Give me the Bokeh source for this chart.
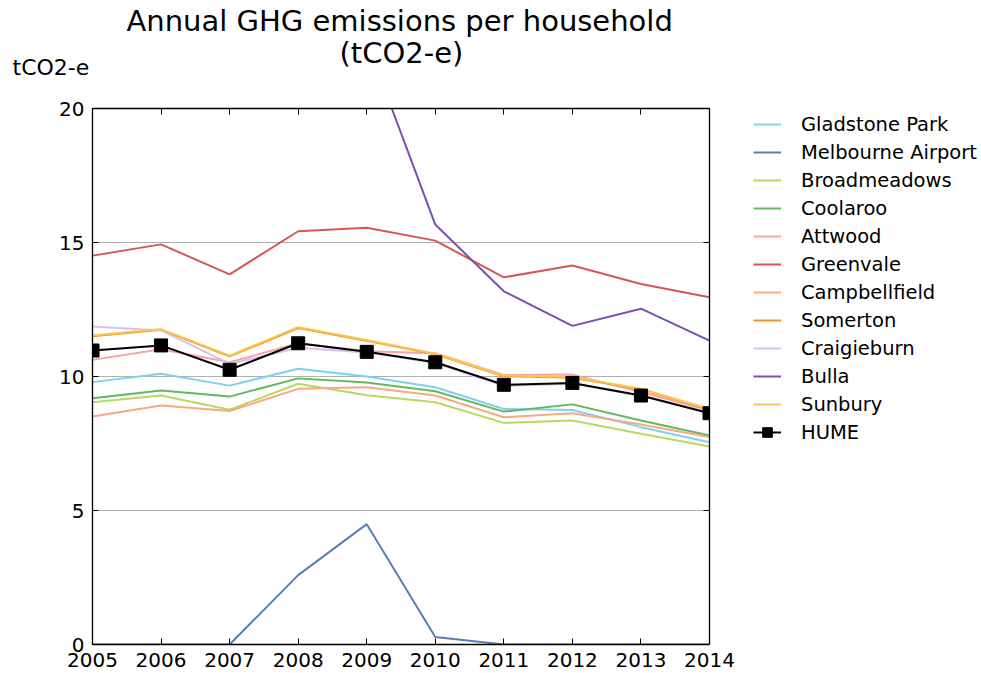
import math
from bokeh.plotting import figure
from bokeh.models import (Range1d, FixedTicker, LinearAxis, Title, Legend, LegendItem,
                          Span, BoxAnnotation)
from bokeh.embed import file_html
from bokeh.resources import INLINE

years = [2005, 2006, 2007, 2008, 2009, 2010, 2011, 2012, 2013, 2014]

gladstone_park = [9.79, 10.10, 9.66, 10.29, 10.00, 9.60, 8.79, 8.75, 8.11, 7.55]
melbourne_airport = [0.0, 0.0, 0.0, 2.59, 4.49, 0.28, 0.0, 0.0, 0.0, 0.0]
broadmeadows = [9.04, 9.29, 8.76, 9.73, 9.30, 9.04, 8.27, 8.36, 7.86, 7.39]
coolaroo = [9.19, 9.48, 9.25, 9.93, 9.78, 9.45, 8.69, 8.96, 8.36, 7.80]
attwood = [10.62, 11.02, 10.53, 11.24, 10.94, 10.87, 10.06, 10.07, 9.42, 8.73]
greenvale = [14.51, 14.93, 13.81, 15.42, 15.55, 15.07, 13.70, 14.14, 13.45, 12.96]
campbellfield = [8.51, 8.92, 8.71, 9.54, 9.60, 9.29, 8.48, 8.63, 8.21, 7.74]
somerton = [11.50, 11.74, 10.75, 11.81, 11.33, 10.83, 10.01, 9.95, 9.52, 8.77]
craigieburn = [11.87, 11.72, 10.47, 11.07, 10.90, 10.50, 9.65, 9.73, 9.28, 8.66]
bulla = [23.5, 24.0, 22.8, 23.6, 22.5, 15.67, 13.18, 11.89, 12.53, 11.34]
sunbury = [11.53, 11.77, 10.78, 11.84, 11.36, 10.85, 10.04, 9.98, 9.54, 8.79]
hume = [10.97, 11.16, 10.25, 11.24, 10.92, 10.53, 9.69, 9.76, 9.29, 8.63]

series_names = ["Gladstone Park", "Melbourne Airport", "Broadmeadows", "Coolaroo",
                "Attwood", "Greenvale", "Campbellfield", "Somerton", "Craigieburn",
                "Bulla", "Sunbury"]
series_values = [gladstone_park, melbourne_airport, broadmeadows, coolaroo, attwood,
                 greenvale, campbellfield, somerton, craigieburn, bulla, sunbury]
series_colors = ["#80d0f0", "#5a7db5", "#b8d860", "#62b862", "#f7a3a8",
                 "#d65656", "#f8a882", "#f7902a", "#d7c2e3", "#7b4fb0", "#f9c74f"]

y_ticks = [0, 5, 10, 15, 20]
title_line1 = "Annual GHG emissions per household"
title_line2 = "(tCO2-e)"
y_label = "tCO2-e"

FONT = "DejaVu Sans"
X0, X1 = years[0], years[-1]
# the frame runs on to the right edge of the page so that the legend sits inside it
x_end = X1 + (981 - 709) * (X1 - X0) / 617.0

p = figure(width=981, height=673, output_backend="svg", toolbar_location=None,
           x_range=Range1d(X0, x_end), y_range=Range1d(0, 20),
           min_border_left=92, min_border_right=0, min_border_top=108,
           min_border_bottom=29)
p.title.text = ""
p.background_fill_color = "white"
p.border_fill_color = "white"
p.outline_line_color = None

for ax in (p.xaxis[0], p.yaxis[0]):
    ax.axis_line_color = "black"
    ax.axis_line_width = 1.3
    ax.major_tick_in = 6
    ax.major_tick_out = 0
    ax.minor_tick_line_color = None
    ax.major_tick_line_color = "black"
    ax.major_label_text_font = FONT
    ax.major_label_text_font_size = "20px"
    ax.major_label_text_color = "black"

p.xaxis[0].ticker = FixedTicker(ticks=years)
p.xaxis[0].bounds = (X0, X1)
p.yaxis[0].ticker = FixedTicker(ticks=y_ticks)
p.xaxis[0].major_label_standoff = 8
p.yaxis[0].major_label_standoff = 8

top_axis = LinearAxis(ticker=FixedTicker(ticks=years), bounds=(X0, X1),
                      axis_line_color="black", axis_line_width=1.3,
                      major_tick_in=6, major_tick_out=0, minor_tick_line_color=None,
                      major_label_standoff=0,
                      major_label_text_font_size="0px", major_label_text_alpha=0)
p.add_layout(top_axis, "above")

p.xgrid.visible = False
p.ygrid[0].ticker = FixedTicker(ticks=y_ticks[1:-1])
p.ygrid[0].bounds = (X0, X1)
p.ygrid[0].grid_line_color = "#b0b0b0"
p.ygrid[0].grid_line_width = 1.2

items = []
for name, vals, col in zip(series_names, series_values, series_colors):
    r = p.line(years, vals, line_color=col, line_width=2)
    items.append(LegendItem(label=name, renderers=[r]))

rh = p.line(years, hume, line_color="black", line_width=2)
rs = p.scatter(years, hume, marker="square", size=13, fill_color="black", line_color="black")
items.append(LegendItem(label="HUME", renderers=[rh, rs]))

# inward ticks on the right edge of the box
p.ray(x=[X1] * len(y_ticks), y=y_ticks, length=6, length_units="screen",
      angle=math.pi, line_color="black", line_width=1)

# blank out what falls right of the box, then draw its right edge
p.add_layout(BoxAnnotation(left=X1, fill_color="white", fill_alpha=1.0, line_color=None))
p.add_layout(Span(location=X1, dimension="height", line_color="black", line_width=1.3))

legend = Legend(items=items, location=(661, 200), padding=0, margin=0,
                glyph_width=28, glyph_height=24, label_height=24, spacing=4,
                label_standoff=20, label_text_font=FONT, label_text_font_size="19.5px",
                label_text_color="black", border_line_color=None,
                background_fill_alpha=0)
p.add_layout(legend)

unit_title = Title(text=y_label, align="left", offset=-80, standoff=57,
                   vertical_align="bottom", text_font=FONT, text_font_size="22px",
                   text_font_style="normal", text_color="black")
title2 = Title(text=title_line2, align="left", offset=247, standoff=-90,
               vertical_align="bottom", text_font=FONT, text_font_size="29px",
               text_font_style="normal", text_color="black")
title1 = Title(text=title_line1, align="left", offset=34, standoff=-27,
               vertical_align="bottom", text_font=FONT, text_font_size="29px",
               text_font_style="normal", text_color="black")
p.add_layout(unit_title, "above")
p.add_layout(title2, "above")
p.add_layout(title1, "above")

open("out.html", "w").write(file_html(p, INLINE))
